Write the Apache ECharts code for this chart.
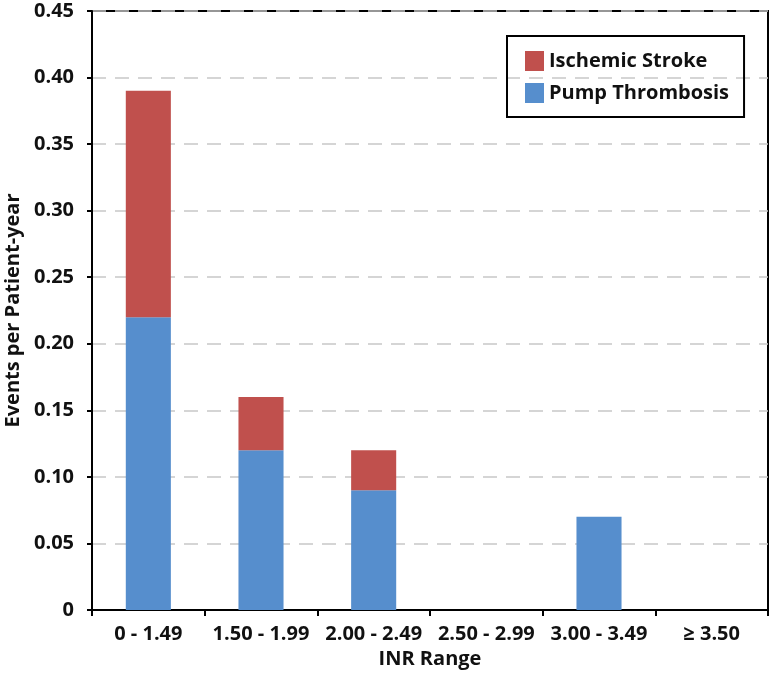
<!DOCTYPE html>
<html><head><meta charset="utf-8">
<script src="https://cdn.jsdelivr.net/npm/echarts@6/dist/echarts.min.js"></script>
<style>html,body{margin:0;padding:0;background:#fff}#c{width:774px;height:677px}</style>
</head><body><div id="c"></div>
<script>
const categories = ['0 - 1.49', '1.50 - 1.99', '2.00 - 2.49', '2.50 - 2.99', '3.00 - 3.49', '\u2265 3.50'];
const pumpThrombosis = [0.22, 0.12, 0.09, 0, 0.07, 0];
const ischemicStroke = [0.17, 0.04, 0.03, 0, 0, 0];
const yTicks = [0, 0.05, 0.10, 0.15, 0.20, 0.25, 0.30, 0.35, 0.40, 0.45];

const FONT = '"Open Sans", "Noto Sans", sans-serif';
const chart = echarts.init(document.getElementById('c'));
chart.setOption({
  animation: false,
  textStyle: { fontFamily: FONT },
  grid: { left: 92, right: 6, top: 11, bottom: 67, outerBoundsMode: 'none', containLabel: false,
          show: true, borderColor: '#000', borderWidth: 2, backgroundColor: 'transparent' },
  legend: {
    data: ['Ischemic Stroke', 'Pump Thrombosis'],
    orient: 'vertical', left: 507, top: 36,
    itemWidth: 19, itemHeight: 20, itemGap: 12, itemTextGap: 9,
    padding: [15, 15, 14, 18],
    borderColor: '#000', borderWidth: 2,
    icon: 'rect',
    textStyle: { fontSize: 20, fontWeight: 'bold', color: '#111', fontFamily: FONT }
  },
  xAxis: {
    type: 'category', data: categories,
    name: 'INR Range', nameLocation: 'middle', nameGap: 34,
    nameTextStyle: { fontSize: 20, fontWeight: 'bold', color: '#111' },
    axisLine: { lineStyle: { color: '#000', width: 2 } },
    axisTick: { show: true, alignWithLabel: false, length: 6, lineStyle: { color: '#000', width: 2 } },
    axisLabel: { fontSize: 20, fontWeight: 'bold', color: '#111', margin: 14, interval: 0 }
  },
  yAxis: {
    type: 'value', min: 0, max: 0.45, interval: 0.05,
    name: 'Events per Patient-year', nameLocation: 'middle', nameGap: 64,
    nameTextStyle: { fontSize: 20, fontWeight: 'bold', color: '#111' },
    axisLine: { show: true, lineStyle: { color: '#000', width: 2 } },
    axisTick: { show: true, length: 5, lineStyle: { color: '#000', width: 2 } },
    axisLabel: { fontSize: 20, fontWeight: 'bold', color: '#111', margin: 18,
      formatter: v => { const i = yTicks.findIndex(t => Math.abs(t - v) < 1e-9); return v === 0 ? '0' : (i >= 0 ? yTicks[i] : v).toFixed(2); } },
    splitLine: { show: true, lineStyle: { color: '#c8c8c8', width: 1.5, type: [14, 9] } }
  },
  series: [
    { name: 'Pump Thrombosis', type: 'bar', stack: 's', data: pumpThrombosis, barWidth: '40%', itemStyle: { color: '#568ECD' } },
    { name: 'Ischemic Stroke', type: 'bar', stack: 's', data: ischemicStroke, barWidth: '40%', itemStyle: { color: '#C0504D' } }
  ]
});
</script></body></html>
